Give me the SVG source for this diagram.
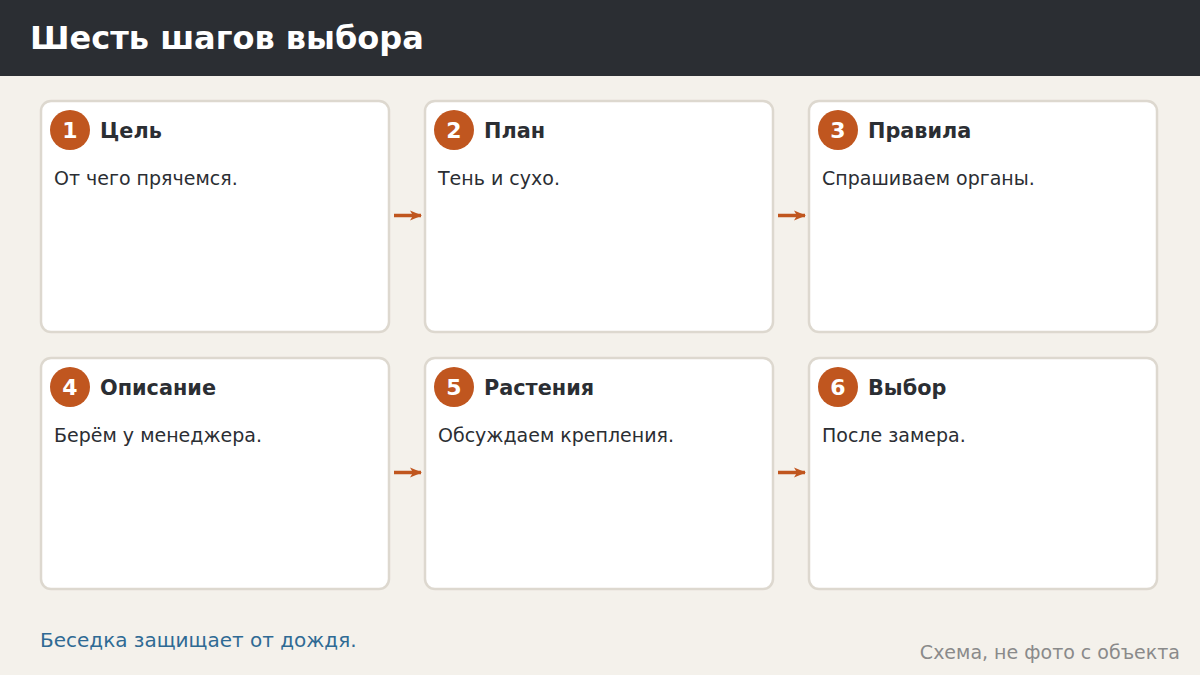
<svg xmlns="http://www.w3.org/2000/svg" width="1200" height="675" viewBox="0 0 1200 675">
<defs>
<marker id="ah" markerWidth="14" markerHeight="14" refX="11" refY="7" orient="auto" markerUnits="userSpaceOnUse">
<path d="M0,2 L12,7 L0,12 L3,7 Z" fill="#c0561f"/>
</marker>
</defs>
<style>
.card{fill:#ffffff;stroke:#ddd8cf;stroke-width:2.5}
.badge{fill:#c0561f}
.num{font-family:"DejaVu Sans",sans-serif;font-weight:bold;font-size:22px;fill:#ffffff;text-anchor:middle}
.ttl{font-family:"DejaVu Sans",sans-serif;font-weight:bold;font-size:20.8px;fill:#2b2e33}
.body{font-family:"DejaVu Sans",sans-serif;font-size:19px;fill:#2b2e33}
.conn{stroke:#c0561f;stroke-width:3.5;fill:none}
</style>
<rect width="1200" height="675" fill="#f4f1eb"/>
<rect width="1200" height="76" fill="#2b2e33"/>
<text x="30" y="49" font-family="DejaVu Sans, sans-serif" font-weight="bold" font-size="32" fill="#ffffff">Шесть шагов выбора</text>

<g id="connectors">
<line class="conn" x1="394" y1="215.5" x2="421" y2="215.5" marker-end="url(#ah)"/>
<line class="conn" x1="778" y1="215.5" x2="805" y2="215.5" marker-end="url(#ah)"/>
<line class="conn" x1="394" y1="472.5" x2="421" y2="472.5" marker-end="url(#ah)"/>
<line class="conn" x1="778" y1="472.5" x2="805" y2="472.5" marker-end="url(#ah)"/>
</g>

<g id="step1">
<rect class="card" x="41" y="101" width="348" height="231" rx="10"/>
<circle class="badge" cx="70" cy="130" r="20"/>
<text class="num" x="70" y="138">1</text>
<text class="ttl" x="100" y="138">Цель</text>
<text class="body" x="54" y="185">От чего прячемся.</text>
</g>
<g id="step2">
<rect class="card" x="425" y="101" width="348" height="231" rx="10"/>
<circle class="badge" cx="454" cy="130" r="20"/>
<text class="num" x="454" y="138">2</text>
<text class="ttl" x="484" y="138">План</text>
<text class="body" x="438" y="185">Тень и сухо.</text>
</g>
<g id="step3">
<rect class="card" x="809" y="101" width="348" height="231" rx="10"/>
<circle class="badge" cx="838" cy="130" r="20"/>
<text class="num" x="838" y="138">3</text>
<text class="ttl" x="868" y="138">Правила</text>
<text class="body" x="822" y="185">Спрашиваем органы.</text>
</g>
<g id="step4">
<rect class="card" x="41" y="358" width="348" height="231" rx="10"/>
<circle class="badge" cx="70" cy="387" r="20"/>
<text class="num" x="70" y="395">4</text>
<text class="ttl" x="100" y="395">Описание</text>
<text class="body" x="54" y="442">Берём у менеджера.</text>
</g>
<g id="step5">
<rect class="card" x="425" y="358" width="348" height="231" rx="10"/>
<circle class="badge" cx="454" cy="387" r="20"/>
<text class="num" x="454" y="395">5</text>
<text class="ttl" x="484" y="395">Растения</text>
<text class="body" x="438" y="442">Обсуждаем крепления.</text>
</g>
<g id="step6">
<rect class="card" x="809" y="358" width="348" height="231" rx="10"/>
<circle class="badge" cx="838" cy="387" r="20"/>
<text class="num" x="838" y="395">6</text>
<text class="ttl" x="868" y="395">Выбор</text>
<text class="body" x="822" y="442">После замера.</text>
</g>

<text x="40" y="647" font-family="DejaVu Sans, sans-serif" font-size="20" fill="#2f6a94">Беседка защищает от дождя.</text>
<text x="1180" y="659" text-anchor="end" font-family="DejaVu Sans, sans-serif" font-size="19" fill="#8a8a8a">Схема, не фото с объекта</text>
</svg>
